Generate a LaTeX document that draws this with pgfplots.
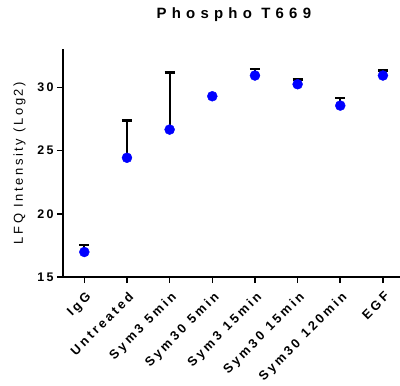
\documentclass[border=0pt]{standalone}
\usepackage{pgfplots}
\pgfplotsset{compat=1.18}
\usepackage{fontspec}
\setmainfont{Liberation Sans}
\newfontfamily\ticks[LetterSpace=18]{Liberation Sans Bold}
\newfontfamily\xticks[LetterSpace=22]{Liberation Sans Bold}
\newfontfamily\ttl[LetterSpace=35]{Liberation Sans Bold}
\newfontfamily\ylab[LetterSpace=20]{Liberation Sans}
\newcommand{\gap}{\hspace{0.55em}}
\begin{document}
\begin{tikzpicture}[x=1bp,y=1bp]
\begin{axis}[
  at={(63bp,109bp)}, anchor=south west,
  scale only axis, width=337bp, height=228bp,
  xmin=-0.5, xmax=7.4, ymin=15, ymax=33.05,
  axis x line*=bottom, axis y line*=left,
  axis line style={line width=1.6bp},
  every tick/.style={line width=1.6bp, black},
  tick align=outside, major tick length=6bp,
  ytick={15,20,25,30},
  xtick={0,...,7},
  xticklabels={IgG,Untreated,Sym3\gap 5min,Sym30\gap 5min,Sym3\gap 15min,Sym30\gap 15min,Sym30\gap 120min,EGF},
  x tick label style={rotate=45, anchor=north east, font=\fontsize{12.9}{14}\xticks, inner sep=1bp, xshift=-4bp, yshift=-5bp},
  y tick label style={font=\fontsize{12.5}{12}\ticks},
  /pgf/number format/assume math mode=true,
  ylabel={\fontsize{13}{13}\ylab LFQ Intensity (Log2)},
  ylabel style={at={(axis description cs:0,0.5)}, yshift=34bp, anchor=south},
  title={\fontsize{15}{15}\ttl Phospho T669},
  title style={at={(axis description cs:0.507,1)}, yshift=18bp, anchor=south},
  clip=false,
]
\addplot[draw=none, mark=none, error bars/.cd, y dir=plus, y explicit,
  error bar style={line width=2.2bp, black},
  error mark options={rotate=90, mark size=5bp, line width=2.6bp, black}]
coordinates {
(0,16.98) +- (0,0.56)
(1,24.44) +- (0,2.96)
(2,26.67) +- (0,4.5)
(4,30.95) +- (0,0.53)
(5,30.26) +- (0,0.37)
(6,28.57) +- (0,0.61)
(7,30.95) +- (0,0.40)
};
\addplot[only marks, mark=*, mark size=5bp, mark options={fill=blue, draw=blue}]
coordinates {
(0,16.98) (1,24.44) (2,26.67) (3,29.31) (4,30.95) (5,30.26) (6,28.57) (7,30.95)
};
\end{axis}
\pgfresetboundingbox
\useasboundingbox (0,0) rectangle (400,386);
\end{tikzpicture}
\end{document}
